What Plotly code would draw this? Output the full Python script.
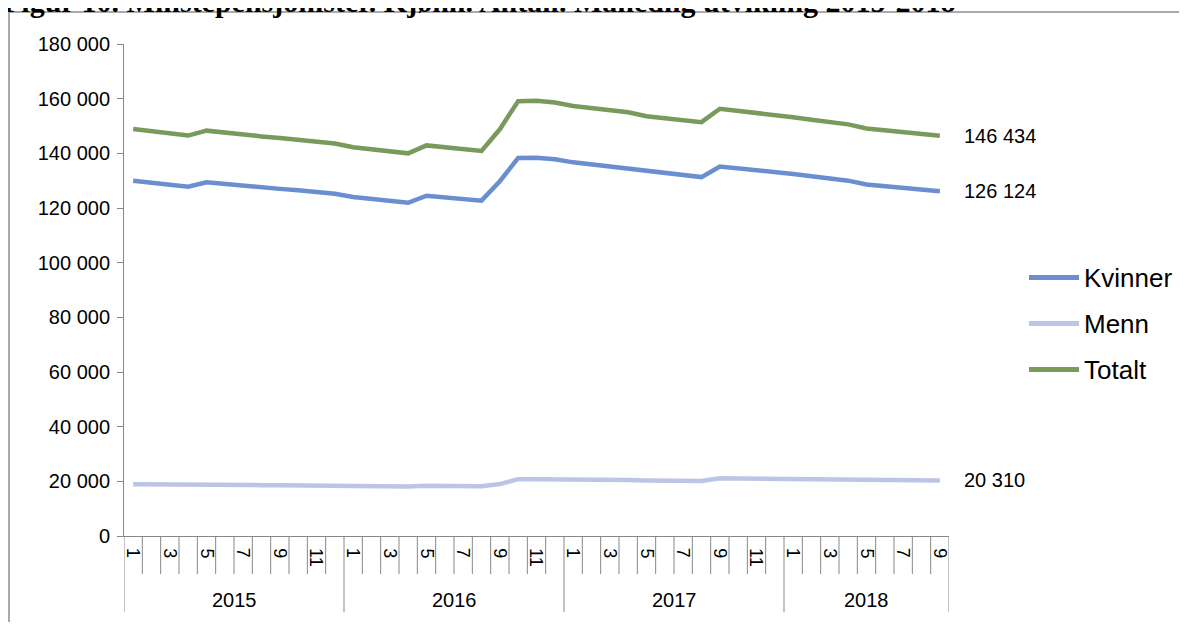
import plotly.graph_objects as go

# ---------------- data ----------------
years = ["2015", "2016", "2017", "2018"]
months_per_year = [12, 12, 12, 9]

kvinner = [130000, 129200, 128500, 127800, 129400, 128700, 128200, 127600, 127000, 126500, 125800, 125200,
           124000, 123300, 122600, 121900, 124500, 123900, 123200, 122700, 129800, 138300, 138400, 137800,
           136700, 135900, 135200, 134500, 133300, 132600, 132000, 131300, 135200, 134600, 134000, 133400,
           132400, 131600, 130800, 130000, 128600, 128000, 127400, 126800, 126124]
menn = [18900, 18800, 18700, 18700, 18900, 18800, 18700, 18600, 18600, 18500, 18500, 18400,
        18200, 18100, 18100, 18100, 18400, 18300, 18200, 18200, 19000, 20800, 20800, 20800,
        20600, 20600, 20500, 20500, 20300, 20200, 20200, 20100, 21100, 21000, 21000, 20900,
        20800, 20700, 20700, 20600, 20500, 20500, 20400, 20400, 20310]
totalt = [148900, 148000, 147200, 146500, 148300, 147500, 146900, 146200, 145600, 145000, 144300, 143600,
          142200, 141400, 140700, 140000, 142900, 142200, 141400, 140900, 148800, 159100, 159200, 158600,
          157300, 156500, 155700, 155000, 153600, 152800, 152200, 151400, 156300, 155600, 155000, 154300,
          153200, 152300, 151500, 150600, 149100, 148500, 147800, 147200, 146434]

series_names = ["Kvinner", "Menn", "Totalt"]
series_values = [kvinner, menn, totalt]
series_colors = ["#6A8ECF", "#BCC5E6", "#789A5A"]

title_text = "Figur 10. Minstepensjonister. Kjønn. Antall. Månedlig utvikling 2015-2018"

# categories
periods = []
month_labels = []
for y, n in zip(years, months_per_year):
    for m in range(1, n + 1):
        periods.append(f"{y}-{m}")
        month_labels.append(str(m))

# ---------------- layout geometry ----------------
# the page body has an 8px margin, so the figure is drawn 8px in from the window corner
OFF = 8
W, H = 1187 - OFF, 630 - 2 * OFF
PLOT_L, PLOT_R, PLOT_T, PLOT_B = 124, 949, 44, 536   # window pixels
ML = PLOT_L - OFF
MT = PLOT_T - OFF
MR = W - (PLOT_R - OFF)
MB = H - (PLOT_B - OFF)
PW = W - ML - MR
PH = H - MT - MB


def px_x(px):
    return (px - PLOT_L) / PW


def px_y(py):
    return (PLOT_B - py) / PH


FONT = "Liberation Sans, Arial, sans-serif"
AXCOL = "#878787"

fig = go.Figure()
for name, vals, col in zip(series_names, series_values, series_colors):
    fig.add_trace(go.Scatter(x=periods, y=vals, mode="lines", name=name,
                             line=dict(color=col, width=4.5), showlegend=False))

shapes = []
annotations = []

# outer frame
shapes.append(dict(type="rect", xref="paper", yref="paper",
                   x0=px_x(9), x1=px_x(1300), y0=px_y(700), y1=px_y(12),
                   line=dict(color="#8E8E8E", width=1.5), fillcolor="rgba(0,0,0,0)", layer="below"))

# month boundary ticks and year dividers
n = len(periods)
year_starts = []
idx = 0
for cnt in months_per_year:
    year_starts.append(idx)
    idx += cnt
year_bounds = set(year_starts + [n])
for b in range(n + 1):
    ybot = px_y(612) if b in year_bounds else px_y(574)
    shapes.append(dict(type="line", xref="x", yref="paper", x0=b - 0.5, x1=b - 0.5,
                       y0=0, y1=ybot, line=dict(color=AXCOL, width=1)))

# month labels (odd months)
for i, lab in enumerate(month_labels):
    if int(lab) % 2 == 1:
        annotations.append(dict(x=i, y=px_y(546), xref="x", yref="paper", text=lab,
                                textangle=90, showarrow=False, xanchor="center", yanchor="top",
                                font=dict(family=FONT, size=18, color="#000000")))

# year labels
for y, s, cnt in zip(years, year_starts, months_per_year):
    annotations.append(dict(x=s + (cnt - 1) / 2, y=px_y(600), xref="x", yref="paper", text=y,
                            showarrow=False, xanchor="center", yanchor="middle",
                            font=dict(family=FONT, size=20, color="#000000")))

# end value labels
for vals in series_values:
    v = vals[-1]
    annotations.append(dict(x=px_x(962), y=v, xref="paper", yref="y",
                            text=f"{v:,}".replace(",", " "), showarrow=False,
                            xanchor="left", yanchor="middle",
                            font=dict(family=FONT, size=20, color="#000000")))

# manual legend
leg_y = [277.5, 323.5, 369.5]
for name, col, ly in zip(series_names, series_colors, leg_y):
    shapes.append(dict(type="line", xref="paper", yref="paper",
                       x0=px_x(1029), x1=px_x(1079), y0=px_y(ly), y1=px_y(ly),
                       line=dict(color=col, width=5)))
    annotations.append(dict(x=px_x(1082), y=px_y(ly), xref="paper", yref="paper", text=name,
                            showarrow=False, xanchor="left", yanchor="middle",
                            font=dict(family=FONT, size=26, color="#000000")))

# title (partly cut at the top, as in the reference)
annotations.append(dict(x=px_x(1), y=px_y(2), xref="paper", yref="paper",
                        text=f"<b>{title_text}</b>", showarrow=False,
                        xanchor="left", yanchor="middle",
                        font=dict(family="Liberation Serif, Times New Roman, serif", size=30,
                                  color="#000000")))

fig.update_layout(
    width=W, height=H,
    margin=dict(l=ML, r=MR, t=MT, b=MB),
    paper_bgcolor="white", plot_bgcolor="white",
    separators=", ",
    xaxis=dict(type="category", range=[-0.5, n - 0.5], showgrid=False, zeroline=False,
               showline=True, linecolor=AXCOL, linewidth=1, showticklabels=False, ticks=""),
    yaxis=dict(range=[0, 180000], dtick=20000, tickformat=",d", showgrid=False, zeroline=False,
               showline=True, linecolor=AXCOL, linewidth=1, ticks="outside", ticklen=6,
               ticklabelstandoff=3,
               tickcolor=AXCOL, tickfont=dict(family=FONT, size=20, color="#000000")),
    shapes=shapes, annotations=annotations,
)

fig.write_html("out.html")
